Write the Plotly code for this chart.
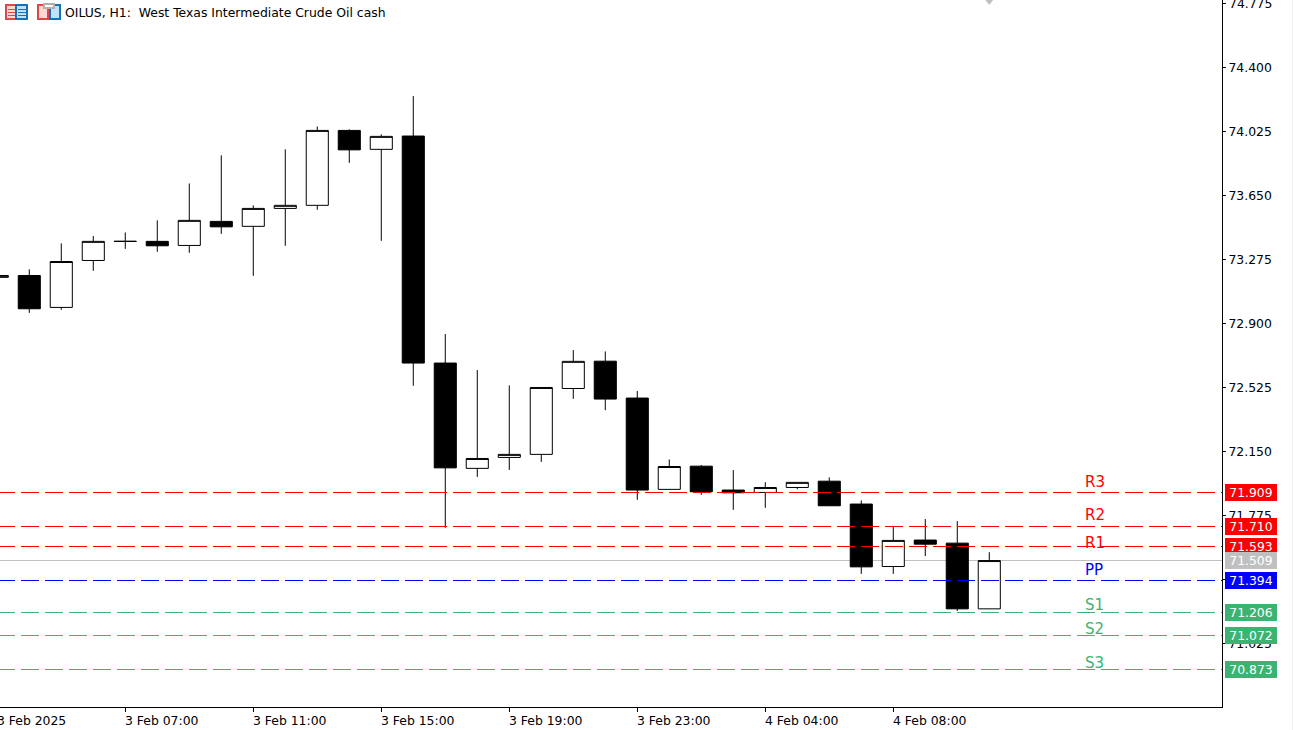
#!/usr/bin/env python3
"""OILUS H1 candles with pivot levels, drawn like the terminal chart."""

import plotly.graph_objects as go

WIDTH = 1293
HEIGHT = 730
PLOT_W = 1222
PLOT_H = 707
BAR_PX = 32

# one entry per hourly bar, oldest first
opens = [73.170, 73.181, 72.994, 73.269, 73.381, 73.381, 73.357, 73.498, 73.469, 73.574,
         73.592, 74.031, 73.920, 73.998, 72.668, 72.051, 72.115, 72.133, 72.519, 72.679,
         72.463, 71.928, 72.064, 71.924, 71.910, 71.939, 71.976, 71.842, 71.476, 71.631,
         71.613, 71.228]
highs = [73.181, 73.217, 73.369, 73.412, 73.433, 73.504, 73.720, 73.885, 73.592, 73.920,
         74.054, 74.037, 74.008, 74.232, 72.838, 72.627, 72.537, 72.525, 72.744, 72.736,
         72.504, 72.103, 72.070, 72.041, 71.970, 71.969, 71.998, 71.863, 71.707, 71.754,
         71.742, 71.560]
lows = [73.170, 72.962, 72.980, 73.208, 73.337, 73.320, 73.314, 73.425, 73.179, 73.355,
        73.566, 73.841, 73.384, 72.535, 71.703, 72.001, 72.042, 72.089, 72.458, 72.392,
        71.867, 71.928, 71.896, 71.808, 71.820, 71.929, 71.832, 71.433, 71.433, 71.537,
        71.216, 71.228]
closes = [73.181, 72.986, 73.263, 73.381, 73.381, 73.355, 73.504, 73.466, 73.574, 73.592,
          74.031, 73.917, 73.996, 72.668, 72.054, 72.109, 72.133, 72.525, 72.678, 72.457,
          71.924, 72.062, 71.914, 71.908, 71.939, 71.969, 71.832, 71.474, 71.629, 71.607,
          71.228, 71.511]

y_ticks = [74.775, 74.400, 74.025, 73.650, 73.275, 72.900, 72.525, 72.150, 71.775, 71.400, 71.025]
y_min = 70.653
y_max = 74.795

x_tick_bars = [0, 4, 8, 12, 16, 20, 24, 28]
x_tick_labels = ["3 Feb 2025", "3 Feb 07:00", "3 Feb 11:00", "3 Feb 15:00",
                 "3 Feb 19:00", "3 Feb 23:00", "4 Feb 04:00", "4 Feb 08:00"]

level_names = ["R3", "R2", "R1", "PP", "S1", "S2", "S3"]
level_values = [71.909, 71.710, 71.593, 71.394, 71.206, 71.072, 70.873]
level_colors = ["#ff0000", "#ff0000", "#ff0000", "#0000ff", "#3cb371", "#3cb371", "#3cb371"]
# how far each name sits above its line, in pixels
level_name_shift = [10.5, 12, 4, 11, 7.5, 6.5, 6.5]

last_price = 71.509
TITLE = "OILUS, H1:  West Texas Intermediate Crude Oil cash"
FONT = "DejaVu Sans"
LABEL_SIZE = 12.4

x_start = 0.085
x_end = x_start + PLOT_W / BAR_PX
bars = list(range(len(opens)))

fig = go.Figure()

fig.add_trace(go.Candlestick(
    x=bars, open=opens, high=highs, low=lows, close=closes,
    increasing=dict(fillcolor="white", line=dict(color="black", width=1)),
    decreasing=dict(fillcolor="black", line=dict(color="black", width=1)),
    whiskerwidth=0, showlegend=False,
))

# marker at the top of the chart above the last bar
fig.add_trace(go.Scatter(
    x=[bars[-1]], y=[y_max], mode="markers",
    marker=dict(symbol="triangle-down", size=10, color="#c0c0c0"),
    showlegend=False, hoverinfo="skip",
))

# current price line stays behind the candles
fig.add_shape(
    type="line", xref="x", yref="y", x0=x_start, x1=x_end, y0=last_price, y1=last_price,
    line=dict(color="#c0c0c0", width=1), layer="below",
)

# pivot levels, drawn from bar 0 so the dashes start where the terminal's do
for name, value, color, shift in zip(level_names, level_values, level_colors, level_name_shift):
    fig.add_shape(
        type="line", xref="x", yref="y", x0=0, x1=x_end, y0=value, y1=value,
        line=dict(color=color, width=1, dash="18px,6px"),
    )
    fig.add_annotation(
        x=34, y=value, text=name, showarrow=False, xanchor="left", yanchor="middle",
        xref="x", yref="y", xshift=-2, yshift=shift, font=dict(family=FONT, size=15, color=color),
    )

# price flags on the scale
flags = list(zip(level_values, level_colors)) + [(last_price, "#c0c0c0")]
for value, color in flags:
    fig.add_annotation(
        x=1, y=value, xref="paper", yref="y", xanchor="left", xshift=3,
        text=f"{value:.3f}", showarrow=False, width=52, height=17,
        bgcolor=color, borderpad=0, borderwidth=0,
        font=dict(family=FONT, size=LABEL_SIZE, color="white"),
    )

# the top scale label is cut by the window, an axis label there would push the margin
fig.add_annotation(
    x=1, y=y_ticks[0], xref="paper", yref="y", xanchor="left", xshift=5,
    text=f"{y_ticks[0]:.3f}", showarrow=False,
    font=dict(family=FONT, size=LABEL_SIZE, color="black"),
)

# time labels start at their tick instead of centring on it
for bar, label in zip(x_tick_bars, x_tick_labels):
    fig.add_annotation(
        x=(bar - x_start) * BAR_PX / PLOT_W, y=0, xref="paper", yref="paper",
        xanchor="left", yanchor="top", xshift=-2, yshift=-4,
        text=label, showarrow=False, font=dict(family=FONT, size=LABEL_SIZE, color="black"),
    )

fig.add_annotation(
    x=63 / PLOT_W, y=1 - 3 / PLOT_H, xref="paper", yref="paper", xanchor="left", yanchor="top",
    text=TITLE, showarrow=False, font=dict(family=FONT, size=LABEL_SIZE, color="black"),
)


def px_rect(x0, y0, x1, y1, line, fill, width=1.5):
    fig.add_shape(
        type="rect", xref="paper", yref="paper",
        x0=x0 / PLOT_W, x1=x1 / PLOT_W, y0=1 - y0 / PLOT_H, y1=1 - y1 / PLOT_H,
        line=dict(color=line, width=width), fillcolor=fill,
    )


# toolbar icons
RED = "#e04848"
BLUE = "#1472b8"
px_rect(6, 5, 16, 19, RED, "#ffd8d4")
px_rect(16, 5, 27, 19, BLUE, "#c0e2f8")
for stripe in (9, 12, 15):
    px_rect(8, stripe, 15, stripe + 1, RED, RED, 0)
    px_rect(18, stripe, 26, stripe + 1, BLUE, BLUE, 0)
px_rect(38, 5, 48, 19, RED, "#ffd8d4")
px_rect(50, 5, 60, 19, BLUE, "#c0e2f8")
px_rect(44, 4, 54, 8, "#b0b0b0", "white")

# thin window edge on the far right
fig.add_shape(
    type="line", xref="paper", yref="paper", x0=1292.5 / PLOT_W, x1=1292.5 / PLOT_W,
    y0=1, y1=1 - HEIGHT / PLOT_H, line=dict(color="#f0f0f0", width=1),
)

fig.update_layout(
    width=WIDTH, height=HEIGHT,
    margin=dict(l=0, r=WIDTH - PLOT_W, t=0, b=HEIGHT - PLOT_H, pad=0),
    plot_bgcolor="white", paper_bgcolor="white",
    font=dict(family=FONT, size=LABEL_SIZE, color="black"),
    showlegend=False,
    boxgap=0, boxgroupgap=0.31,
)
fig.update_xaxes(
    range=[x_start, x_end], rangeslider_visible=False, showgrid=False, zeroline=False,
    tickmode="array", tickvals=x_tick_bars, ticktext=[""] * len(x_tick_bars),
    ticks="outside", ticklen=4, tickcolor="black", tickwidth=1,
    showline=True, linecolor="black", linewidth=1,
)
fig.update_yaxes(
    range=[y_min, y_max], side="right", showgrid=False, zeroline=False,
    tickmode="array", tickvals=y_ticks, ticktext=[""] + [f"{v:.3f}" for v in y_ticks[1:]],
    ticks="outside", ticklen=3, tickcolor="black", tickwidth=1,
    showline=True, linecolor="black", linewidth=1,
    tickfont=dict(family=FONT, size=LABEL_SIZE),
)

# keep the thin level lines on whole pixels
crisp = "document.body.style.margin='0';" \
        "document.querySelectorAll('.shapelayer path').forEach(" \
        "function(p){p.style.shapeRendering='crispEdges';});"
fig.write_html("out.html", config={"displayModeBar": False}, post_script=crisp)
